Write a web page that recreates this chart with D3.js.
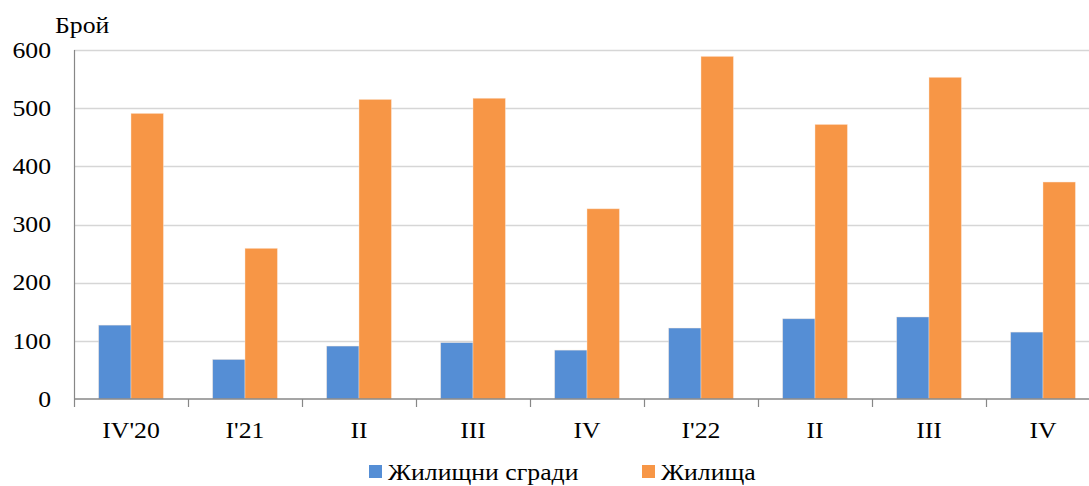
<!DOCTYPE html>
<html lang="bg">
<head>
    <meta charset="UTF-8">
    <title>Жилищни сгради и жилища</title>
    <script src="https://d3js.org/d3.v7.min.js"></script>
    <style>
        html, body {
            margin: 0;
            padding: 0;
            background: #ffffff;
            overflow: hidden;
        }
        svg text {
            font-family: 'Liberation Serif', 'DejaVu Serif', serif;
            fill: #000;
        }
    </style>
</head>
<body>
    <div id="chart"></div>
    <script>
        // Data
        const quarters = ["IV'20", "I'21", "II", "III", "IV", "I'22", "II", "III", "IV"];
        const buildings = [127, 68, 91, 97, 84, 122, 138, 141, 115];
        const dwellings = [491, 259, 515, 517, 327, 589, 472, 553, 373];
        const seriesNames = ["Жилищни сгради", "Жилища"];
        const seriesColors = ["#558ed5", "#f79646"];
        const yTicks = [0, 100, 200, 300, 400, 500, 600];

        const W = 1089, H = 486;
        // plot area runs a bit past the right edge of the window, as in the source
        const plot = { left: 74, top: 50, right: 1100, bottom: 399 };

        // the source text is a little wide for its height
        const stretch = "scale(1.12,1)";

        const svg = d3.select("#chart").append("svg")
            .attr("width", W)
            .attr("height", H);

        const x = d3.scaleBand()
            .domain(d3.range(quarters.length))
            .range([plot.left, plot.right]);

        const y = d3.scaleLinear()
            .domain([0, 600])
            .range([plot.bottom, plot.top]);

        // two bars per category, gap ~1.5 bar widths
        const barW = x.bandwidth() * 0.284;

        // gridlines
        svg.append("g")
            .selectAll("line")
            .data(yTicks.filter(d => d > 0))
            .join("line")
            .attr("x1", plot.left)
            .attr("x2", plot.right)
            .attr("y1", d => Math.round(y(d)) + 0.5)
            .attr("y2", d => Math.round(y(d)) + 0.5)
            .attr("stroke", "#d6d6d6")
            .attr("stroke-width", 1.5);

        // y labels
        svg.append("g")
            .selectAll("text")
            .data(yTicks)
            .join("text")
            .attr("transform", d => `translate(51,${y(d)}) ${stretch}`)
            .attr("dy", "0.34em")
            .attr("text-anchor", "end")
            .style("font-size", "23px")
            .text(d => d);

        svg.append("text")
            .attr("transform", `translate(55,33) ${stretch}`)
            .style("font-size", "23px")
            .text("Брой");

        // bars
        const series = [buildings, dwellings];
        series.forEach((vals, s) => {
            svg.append("g")
                .selectAll("rect")
                .data(vals)
                .join("rect")
                .attr("x", (d, i) => x(i) + x.bandwidth() / 2 - barW + s * barW)
                .attr("y", d => y(d))
                .attr("width", barW)
                .attr("height", d => y(0) - y(d))
                .attr("fill", seriesColors[s])
                .attr("stroke", "#fde9d9")
                .attr("stroke-opacity", 0.5)
                .attr("stroke-width", 0.8);
        });

        // axes lines
        svg.append("line")
            .attr("x1", plot.left + 0.5).attr("x2", plot.left + 0.5)
            .attr("y1", plot.top).attr("y2", plot.bottom)
            .attr("stroke", "#878787").attr("stroke-width", 1.2);

        svg.append("line")
            .attr("x1", plot.left).attr("x2", plot.right)
            .attr("y1", plot.bottom).attr("y2", plot.bottom)
            .attr("stroke", "#878787").attr("stroke-width", 1.5);

        // category boundary ticks
        svg.append("g")
            .selectAll("line")
            .data(d3.range(quarters.length + 1))
            .join("line")
            .attr("x1", i => Math.round(plot.left + i * x.step()) + 0.5)
            .attr("x2", i => Math.round(plot.left + i * x.step()) + 0.5)
            .attr("y1", plot.bottom)
            .attr("y2", plot.bottom + 8)
            .attr("stroke", "#878787")
            .attr("stroke-width", 1.2);

        // x labels
        svg.append("g")
            .selectAll("text")
            .data(quarters)
            .join("text")
            .attr("transform", (d, i) => `translate(${x(i) + x.bandwidth() / 2},438) ${stretch}`)
            .attr("text-anchor", "middle")
            .style("font-size", "23px")
            .text(d => d);

        // legend (nudged up a few px so the text is not clipped by the window)
        const legendX = [369, 642];
        const legend = svg.append("g")
            .selectAll("g")
            .data(seriesNames)
            .join("g")
            .attr("transform", (d, i) => `translate(${legendX[i]},0)`);

        legend.append("rect")
            .attr("y", 465)
            .attr("width", 13)
            .attr("height", 13)
            .attr("fill", (d, i) => seriesColors[i]);

        legend.append("text")
            .attr("transform", `translate(19,480) ${stretch}`)
            .style("font-size", "23px")
            .text(d => d);
    </script>
</body>
</html>
